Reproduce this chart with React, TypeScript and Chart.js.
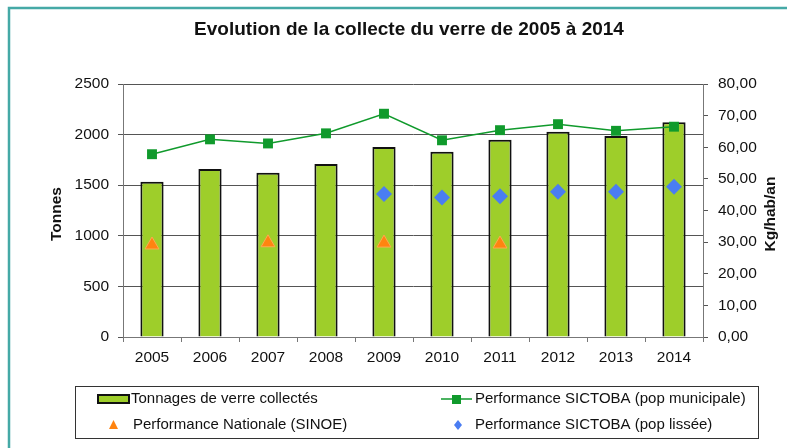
import React, { useEffect, useRef } from "react";
import { Chart, registerables } from "chart.js";

Chart.register(...registerables);

const years = ["2005", "2006", "2007", "2008", "2009", "2010", "2011", "2012", "2013", "2014"];
const tonnages = [1535, 1660, 1624, 1710, 1877, 1831, 1950, 2029, 1986, 2121];
const perfMunicipale = [57.8, 62.5, 61.2, 64.4, 70.6, 62.2, 65.4, 67.3, 65.2, 66.5];
const perfNationale = [29.1, null, 29.8, null, 29.7, null, 29.4, null, null, null];
const perfLissee = [null, null, null, null, 45.2, 44.1, 44.5, 45.9, 45.9, 47.5];

const titleText = "Evolution de la collecte du verre de 2005 à 2014";
const leftTitle = "Tonnes";
const rightTitle = "Kg/hab/an";
const labelBar = "Tonnages de verre collectés";
const labelMunicipale = "Performance SICTOBA (pop municipale)";
const labelNationale = "Performance Nationale (SINOE)";
const labelLissee = "Performance SICTOBA (pop lissée)";

const FONT = '"Liberation Sans", Arial, sans-serif';
const BAR_FILL = "#9ECE2A";
const GREEN = "#109A2C";
const ORANGE = "#FF8410";
const BLUE = "#4A7DF2";
const TEAL = "#45A9A6";
const TICK_SIZE = 15.5;

const decoPlugin = {
  id: "deco",
  beforeDraw(chart: any) {
    const ctx = chart.ctx;
    ctx.save();
    ctx.fillStyle = "#fff";
    ctx.fillRect(0, 0, chart.width, chart.height);
    ctx.strokeStyle = TEAL;
    ctx.lineWidth = 2.5;
    ctx.beginPath();
    ctx.moveTo(9, 460);
    ctx.lineTo(9, 8);
    ctx.lineTo(800, 8);
    ctx.stroke();
    ctx.restore();
  },
  afterDraw(chart: any) {
    const ctx = chart.ctx;
    ctx.save();
    ctx.fillStyle = "#111";
    ctx.textBaseline = "middle";
    ctx.textAlign = "center";
    ctx.font = `bold 19px ${FONT}`;
    ctx.fillText(titleText, 409, 30);

    ctx.font = `bold 15.5px ${FONT}`;
    ctx.save();
    ctx.translate(57, 214);
    ctx.rotate(-Math.PI / 2);
    ctx.fillText(leftTitle, 0, 0);
    ctx.restore();
    ctx.font = `bold 15.5px ${FONT}`;
    ctx.save();
    ctx.translate(771, 214);
    ctx.rotate(-Math.PI / 2);
    ctx.fillText(rightTitle, 0, 0);
    ctx.restore();

    // legend box
    ctx.strokeStyle = "#333";
    ctx.lineWidth = 1;
    ctx.strokeRect(75.5, 386.5, 683, 52);

    // bar swatch
    ctx.fillStyle = BAR_FILL;
    ctx.fillRect(98, 395, 31, 8);
    ctx.strokeStyle = "#111";
    ctx.lineWidth = 2;
    ctx.strokeRect(98, 395, 31, 8);

    // line swatch
    ctx.strokeStyle = GREEN;
    ctx.lineWidth = 1.5;
    ctx.beginPath();
    ctx.moveTo(441, 399);
    ctx.lineTo(472, 399);
    ctx.stroke();
    ctx.fillStyle = GREEN;
    ctx.fillRect(452, 395, 9, 9);

    // triangle
    ctx.fillStyle = ORANGE;
    ctx.beginPath();
    ctx.moveTo(113.5, 420);
    ctx.lineTo(118, 429);
    ctx.lineTo(109, 429);
    ctx.closePath();
    ctx.fill();

    // diamond
    ctx.fillStyle = BLUE;
    ctx.beginPath();
    ctx.moveTo(458, 420);
    ctx.lineTo(462, 425);
    ctx.lineTo(458, 430);
    ctx.lineTo(454, 425);
    ctx.closePath();
    ctx.fill();

    ctx.fillStyle = "#111";
    ctx.textAlign = "left";
    ctx.font = `15px ${FONT}`;
    ctx.fillText(labelBar, 131, 399);
    ctx.fillText(labelMunicipale, 475, 399);
    ctx.fillText(labelNationale, 133, 425);
    ctx.fillText(labelLissee, 475, 425);
    ctx.restore();
  },
};

export default function App() {
  const ref = useRef<HTMLCanvasElement>(null);

  useEffect(() => {
    if (!ref.current) return;
    const chart = new Chart(ref.current, {
      type: "bar",
      data: {
        labels: years,
        datasets: [
          {
            type: "bar",
            label: labelBar,
            data: tonnages,
            yAxisID: "y",
            backgroundColor: BAR_FILL,
            borderColor: "#111",
            borderWidth: 2,
            barPercentage: 0.4,
            categoryPercentage: 1,
            order: 10,
          },
          {
            type: "line",
            label: labelMunicipale,
            data: perfMunicipale,
            yAxisID: "y1",
            borderColor: GREEN,
            backgroundColor: GREEN,
            borderWidth: 1.5,
            pointStyle: "rect",
            pointRadius: 7,
            pointBorderWidth: 0,
            order: 1,
          },
          {
            type: "line",
            label: labelNationale,
            data: perfNationale,
            yAxisID: "y1",
            showLine: false,
            backgroundColor: ORANGE,
            borderColor: "#FFA850",
            pointStyle: "triangle",
            pointRadius: 8,
            pointBorderWidth: 1,
            order: 2,
          },
          {
            type: "line",
            label: labelLissee,
            data: perfLissee,
            yAxisID: "y1",
            showLine: false,
            backgroundColor: BLUE,
            borderColor: BLUE,
            pointStyle: "rectRot",
            pointRadius: 8,
            pointBorderWidth: 0,
            order: 3,
          },
        ],
      } as any,
      options: {
        responsive: false,
        animation: false,
        devicePixelRatio: 1,
        layout: { padding: { top: 84, left: 0, right: 0, bottom: 0 } },
        plugins: {
          legend: { display: false },
          title: { display: false },
          tooltip: { enabled: false },
        },
        scales: {
          x: {
            afterFit: (s: any) => {
              s.height = 111;
            },
            grid: {
              offset: true,
              drawOnChartArea: false,
              drawTicks: true,
              tickLength: 5,
              color: "#777",
            },
            border: { color: "#777", width: 1 },
            ticks: {
              color: "#111",
              font: { family: FONT, size: TICK_SIZE },
              padding: 6,
              maxRotation: 0,
            },
          },
          y: {
            position: "left",
            min: 0,
            max: 2500,
            afterFit: (s: any) => {
              s.width = 123;
            },
            ticks: {
              stepSize: 500,
              color: "#111",
              font: { family: FONT, size: TICK_SIZE },
              padding: 9,
              callback: (v: any) => String(v),
            },
            grid: { color: "#555", tickLength: 5, drawTicks: true },
            border: { color: "#777", width: 1 },
          },
          y1: {
            position: "right",
            min: 0,
            max: 80,
            afterFit: (s: any) => {
              s.width = 84;
            },
            ticks: {
              stepSize: 10,
              color: "#111",
              font: { family: FONT, size: TICK_SIZE },
              padding: 10,
              callback: (v: any) => Number(v).toFixed(2).replace(".", ","),
            },
            grid: { drawOnChartArea: false, tickLength: 5, color: "#555" },
            border: { color: "#777", width: 1 },
          },
        },
      } as any,
      plugins: [decoPlugin],
    });
    return () => chart.destroy();
  }, []);

  return (
    <div style={{ position: "absolute", left: 0, top: 0, width: 787, height: 448 }}>
      <canvas ref={ref} width={787} height={448} style={{ display: "block" }} />
    </div>
  );
}
